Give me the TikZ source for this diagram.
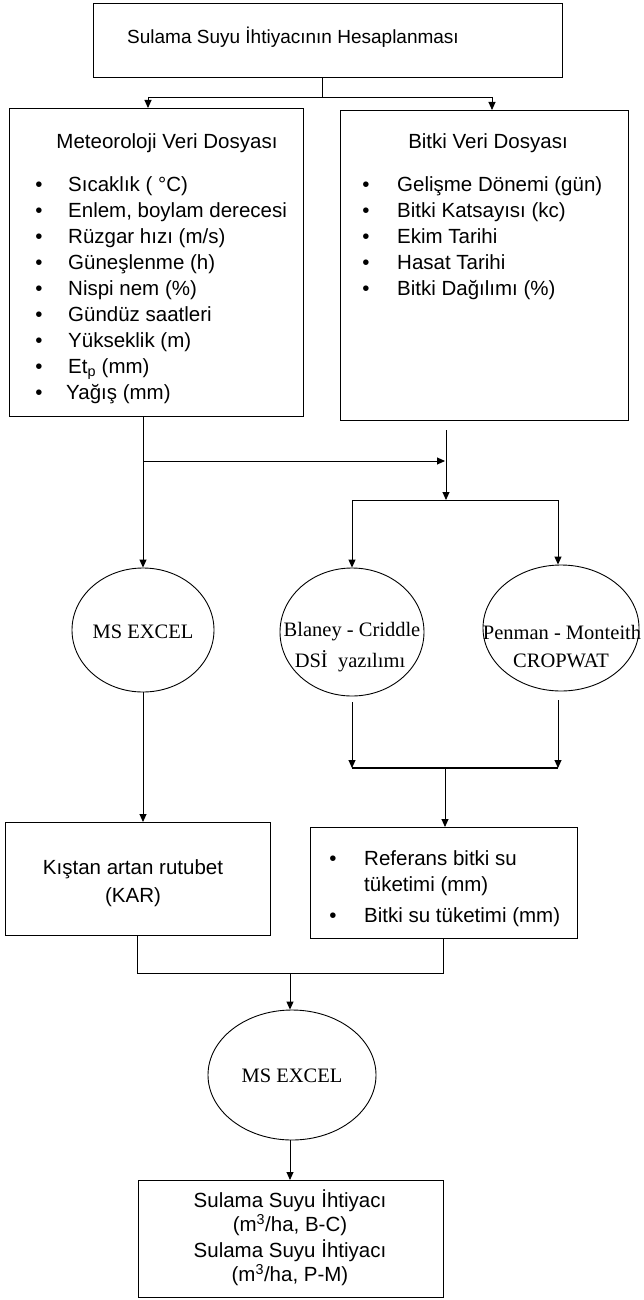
\documentclass[tikz,border=0pt]{standalone}
\usepackage{fontspec}
\setmainfont{Liberation Sans}
\newfontfamily\myserif{Liberation Serif}
\usetikzlibrary{arrows.meta,shapes.geometric}
\begin{document}
\begin{tikzpicture}[x=1pt,y=-1pt,
  box/.style={draw, line width=0.9pt, rectangle, inner sep=0pt, anchor=north west},
  oval/.style={draw, line width=0.9pt, ellipse, inner sep=0pt},
  txt/.style={inner sep=0pt, font=\fontsize{20.5}{24}\selectfont},
  itm/.style={txt, anchor=base west},
  bul/.style={txt, anchor=base},
  stxt/.style={inner sep=0pt, font=\myserif\fontsize{20.5}{24}\selectfont},
  conn/.style={line width=0.9pt},
  arr/.style={line width=0.9pt, -{Triangle[length=8pt,width=7pt]}}
]
\fill[white] (0,0) rectangle (644,1300);
\useasboundingbox (0,0) rectangle (644,1300);

% top box
\node[box, minimum width=469pt, minimum height=74pt] (top) at (93,3) {};
\node[inner sep=0pt, anchor=west, font=\fontsize{19}{22}\selectfont] (toptxt) at (127,37) {Sulama Suyu İhtiyacının Hesaplanması};

% meteorology box
\node[box, minimum width=294pt, minimum height=308pt] (met) at (9,108) {};
\node[txt] (mett) at (167,143) {Meteoroloji Veri Dosyası};
\node[bul] (mb1) at (39,191) {•}; \node[itm] (mi1) at (68,191) {Sıcaklık ( °C)};
\node[bul] (mb2) at (39,217) {•}; \node[itm] (mi2) at (68,217) {Enlem, boylam derecesi};
\node[bul] (mb3) at (39,243) {•}; \node[itm] (mi3) at (68,243) {Rüzgar hızı (m/s)};
\node[bul] (mb4) at (39,269) {•}; \node[itm] (mi4) at (68,269) {Güneşlenme (h)};
\node[bul] (mb5) at (39,295) {•}; \node[itm] (mi5) at (68,295) {Nispi nem (\%)};
\node[bul] (mb6) at (39,321) {•}; \node[itm] (mi6) at (68,321) {Gündüz saatleri};
\node[bul] (mb7) at (39,347) {•}; \node[itm] (mi7) at (68,347) {Yükseklik (m)};
\node[bul] (mb8) at (39,373) {•}; \node[itm] (mi8) at (68,373) {Et\textsubscript{p} (mm)};
\node[bul] (mb9) at (39,399) {•}; \node[itm] (mi9) at (66,399) {Yağış (mm)};

% plant box
\node[box, minimum width=288pt, minimum height=310pt] (bitki) at (340,110) {};
\node[txt] (bitt) at (488,143) {Bitki Veri Dosyası};
\node[bul] (bb1) at (366,191) {•}; \node[itm] (bi1) at (397,191) {Gelişme Dönemi (gün)};
\node[bul] (bb2) at (366,217) {•}; \node[itm] (bi2) at (397,217) {Bitki Katsayısı (kc)};
\node[bul] (bb3) at (366,243) {•}; \node[itm] (bi3) at (397,243) {Ekim Tarihi};
\node[bul] (bb4) at (366,269) {•}; \node[itm] (bi4) at (397,269) {Hasat Tarihi};
\node[bul] (bb5) at (366,295) {•}; \node[itm] (bi5) at (397,295) {Bitki Dağılımı (\%)};

% ellipses
\node[oval, minimum width=142pt, minimum height=124pt] (e1) at (143,630) {};
\node[stxt] (e1t) at (143,632) {MS EXCEL};
\node[oval, minimum width=144pt, minimum height=128pt] (e2) at (352,632) {};
\node[stxt] (e2t1) at (352,632) {Blaney - Criddle};
\node[stxt] (e2t2) at (350,661) {DSİ\ \ yazılımı};
\node[oval, minimum width=156pt, minimum height=126pt] (e3) at (561,628) {};
\node[stxt] (e3t1) at (562,632) {Penman - Monteith};
\node[stxt] (e3t2) at (561,661) {CROPWAT};

% lower boxes
\node[box, minimum width=265pt, minimum height=113pt] (kar) at (5,822) {};
\node[txt] (kart1) at (133,869) {Kıştan artan rutubet};
\node[txt] (kart2) at (133,897) {(KAR)};
\node[box, minimum width=267pt, minimum height=111pt] (ref) at (310,827) {};
\node[bul] (rb1) at (333,865) {•}; \node[itm] (ri1) at (364,865) {Referans bitki su};
\node[itm] (ri1b) at (364,891) {tüketimi (mm)};
\node[bul] (rb2) at (333,922) {•}; \node[itm] (ri2) at (364,922) {Bitki su tüketimi (mm)};

% bottom ellipse and final box
\node[oval, minimum width=168pt, minimum height=130pt] (e4) at (292,1075) {};
\node[stxt] (e4t) at (292,1076) {MS EXCEL};
\node[box, minimum width=305pt, minimum height=117pt] (fin) at (138,1180) {};
\node[txt] (f1) at (290,1201) {Sulama Suyu İhtiyacı};
\node[txt] (f2) at (290,1225) {(m\textsuperscript{3}/ha, B-C)};
\node[txt] (f3) at (290,1251) {Sulama Suyu İhtiyacı};
\node[txt] (f4) at (290,1275) {(m\textsuperscript{3}/ha, P-M)};

% connectors top
\coordinate (j1) at (322,97);
\coordinate (jl) at (148,97);
\coordinate (jr) at (492,97);
\draw[conn] (top.south -| j1) -- (j1);
\draw[conn] (jl) -- (jr);
\draw[arr] (jl) -- (met.north -| jl);
\draw[arr] (jr) -- (bitki.north -| jr);

% connectors middle
\coordinate (h1) at (143,461);
\coordinate (h2) at (445,461);
\draw[arr] (met.south -| e1) -- (e1.north);
\draw[arr] (h1) -- (h2);
\coordinate (v1) at (446,430);
\coordinate (s1) at (446,500);
\draw[arr] (v1) -- (s1);
\coordinate (s2) at (352,500);
\coordinate (s3) at (558,500);
\draw[conn] (s2) -- (s3);
\draw[arr] (s2) -- (e2.north -| s2);
\draw[arr] (s3) -- (e3.north -| s3);

% connectors from ellipses
\coordinate (b2) at (352,702);
\coordinate (b3) at (558,700);
\coordinate (m2) at (352,768);
\coordinate (m3) at (558,768);
\draw[arr] (b2) -- (m2);
\draw[arr] (b3) -- (m3);
\draw[line width=1.6pt] (m2) -- (m3);
\coordinate (m) at (445,769);
\draw[arr] (m) -- (ref.north -| m);
\draw[arr] (e1.south) -- (kar.north -| e1);

% connectors to bottom
\coordinate (k1) at (137,973);
\coordinate (k2) at (443,973);
\coordinate (k3) at (290,973);
\draw[conn] (kar.south -| k1) -- (k1) -- (k2) -- (ref.south -| k2);
\draw[arr] (k3) -- (e4.north -| k3);
\draw[arr] (e4.south -| k3) -- (fin.north -| k3);
\end{tikzpicture}
\end{document}
